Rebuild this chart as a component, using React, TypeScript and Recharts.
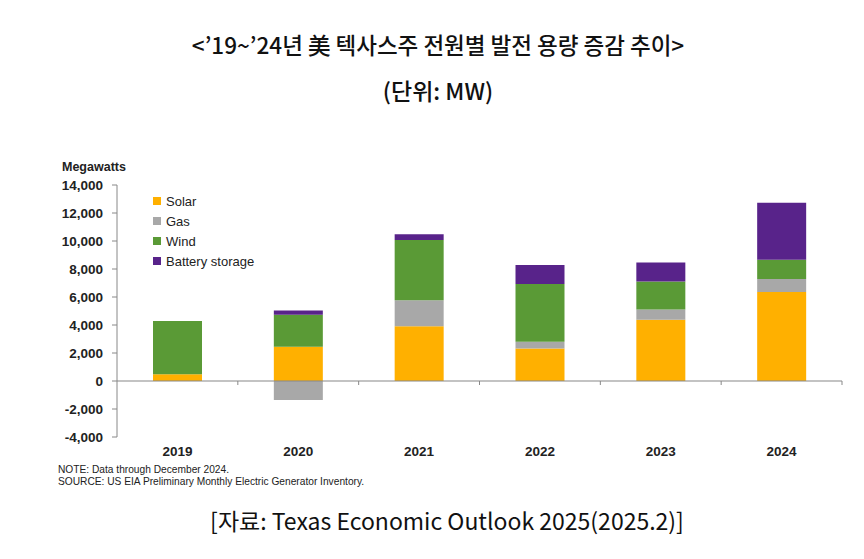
import React from 'react'
import { BarChart, Bar, XAxis, YAxis, ReferenceLine } from 'recharts'

const years = ['2019', '2020', '2021', '2022', '2023', '2024']
const solar = [480, 2450, 3910, 2330, 4370, 6360]
const gas = [0, -1350, 1860, 470, 740, 920]
const wind = [3800, 2280, 4310, 4130, 1990, 1380]
const battery = [0, 300, 410, 1350, 1370, 4080]
const yTicks = [-4000, -2000, 0, 2000, 4000, 6000, 8000, 10000, 12000, 14000]

const series = [
  { key: 'solar', name: 'Solar', color: '#FFB000' },
  { key: 'gas', name: 'Gas', color: '#A8A8A8' },
  { key: 'wind', name: 'Wind', color: '#5A9A36' },
  { key: 'battery', name: 'Battery storage', color: '#58238A' },
]

const data = years.map((year, i) => ({
  year,
  solar: solar[i],
  gas: gas[i],
  wind: wind[i],
  battery: battery[i],
}))

const axisFont = 'Arial, "Liberation Sans", sans-serif'
const korFont = '"Noto Sans CJK KR", "Noto Sans", sans-serif'

function LegendBox() {
  return (
    <div style={{ fontFamily: axisFont, fontSize: 13, color: '#222' }}>
      {series.map((s) => (
        <div key={s.key} style={{ display: 'flex', alignItems: 'center', height: 20 }}>
          <span style={{ width: 8, height: 8, background: s.color, display: 'inline-block', marginRight: 5 }} />
          {s.name}
        </div>
      ))}
    </div>
  )
}

// zero line with small ticks at the category boundaries
function ZeroLine(props: any) {
  const { x1, y1, x2, y2 } = props
  const step = (x2 - x1) / years.length
  const marks = []
  for (let i = 1; i <= years.length; i++) {
    const x = x1 + step * i
    marks.push(<line key={i} x1={x} y1={y1} x2={x} y2={y1 + 4} stroke="#888" strokeWidth={1} />)
  }
  return (
    <g>
      <line x1={x1} y1={y1} x2={x2} y2={y2} stroke="#888" strokeWidth={1.2} />
      {marks}
    </g>
  )
}

export default function App() {
  return (
    <div style={{ position: 'relative', width: 848, height: 543, background: '#fff' }}>
      <div style={{ position: 'absolute', left: 0, width: 860, top: 20, textAlign: 'center', fontFamily: korFont, fontSize: 22.5, fontWeight: 500, color: '#111' }}>
        &lt;’19~’24년 美 텍사스주 전원별 발전 용량 증감 추이&gt;
      </div>
      <div style={{ position: 'absolute', left: 0, width: 860, top: 65, textAlign: 'center', fontFamily: korFont, fontSize: 23, fontWeight: 500, color: '#111' }}>
        (단위: MW)
      </div>
      <div style={{ position: 'absolute', left: 54, top: 152, fontFamily: axisFont, fontSize: 12.5, fontWeight: 700, color: '#222' }}>
        Megawatts
      </div>
      <div style={{ position: 'absolute', left: 0, top: 0 }}>
        <BarChart
          width={848}
          height={470}
          data={data}
          stackOffset="sign"
          margin={{ top: 177, right: 14, bottom: 11, left: 49 }}
          barSize={49}
        >
          <XAxis
            dataKey="year"
            axisLine={false}
            tickLine={false}
            tickSize={0}
            tickMargin={9}
            tick={{ fontFamily: axisFont, fontSize: 13.5, fontWeight: 700, fill: '#222' }}
            height={30}
          />
          <YAxis
            domain={[-4000, 14000]}
            ticks={yTicks}
            interval={0}
            width={60}
            tickFormatter={(v: number) => v.toLocaleString('en-US')}
            axisLine={{ stroke: '#888' }}
            tickLine={{ stroke: '#888' }}
            tickSize={5}
            tickMargin={9}
            tick={{ fontFamily: axisFont, fontSize: 13.5, fontWeight: 700, fill: '#222' }}
          />
          <ReferenceLine y={0} shape={ZeroLine} />
          {series.map((s) => (
            <Bar key={s.key} dataKey={s.key} name={s.name} stackId="a" fill={s.color} isAnimationActive={false} />
          ))}
        </BarChart>
      </div>
      <div style={{ position: 'absolute', left: 145, top: 183 }}>
        <LegendBox />
      </div>
      <div style={{ position: 'absolute', left: 50, top: 456, fontFamily: axisFont, fontSize: 10.2, color: '#222', lineHeight: '12px' }}>
        <div>NOTE: Data through December 2024.</div>
        <div>SOURCE: US EIA Preliminary Monthly Electric Generator Inventory.</div>
      </div>
      <div style={{ position: 'absolute', left: 0, width: 878, top: 495, textAlign: 'center', fontFamily: korFont, fontSize: 23, color: '#111' }}>
        [자료: Texas Economic Outlook 2025(2025.2)]
      </div>
    </div>
  )
}
